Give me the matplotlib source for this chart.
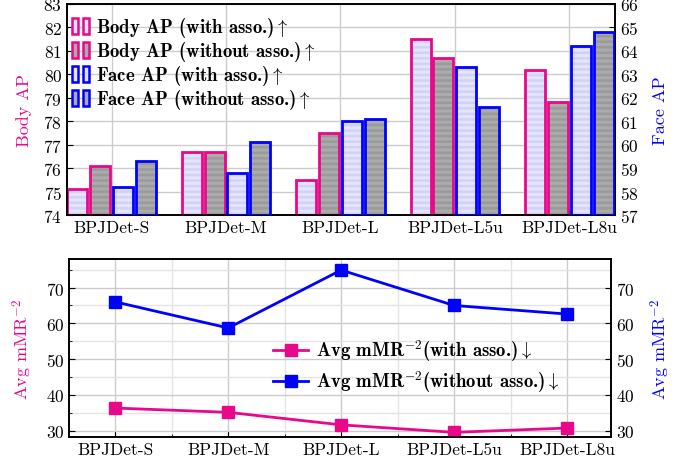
import matplotlib
matplotlib.use("Agg")
import matplotlib.pyplot as plt
import numpy as np
from matplotlib.patches import Rectangle
from matplotlib.legend_handler import HandlerBase

plt.rcParams['font.family'] = ['cmr10', 'DejaVu Serif']
plt.rcParams['mathtext.fontset'] = 'cm'
plt.rcParams['axes.formatter.use_mathtext'] = True
plt.rcParams['hatch.linewidth'] = 1.8

categories = ["BPJDet-S", "BPJDet-M", "BPJDet-L", "BPJDet-L5u", "BPJDet-L8u"]
body_with = [75.1, 76.7, 75.5, 81.5, 80.2]
body_without = [76.1, 76.7, 77.5, 80.7, 78.8]
face_with = [58.2, 58.8, 61.0, 63.3, 64.2]
face_without = [59.3, 60.1, 61.1, 61.6, 64.8]
mmr_with = [36.3, 35.1, 31.6, 29.5, 30.7]
mmr_without = [66.0, 58.7, 74.9, 65.0, 62.6]

MAG = '#E8088A'
BLUE = '#0000FF'
LIGHT = '#E4E4FF'
LIGHT_H = '#D2D2F4'
GRAY = '#ABABAB'
GRAY_H = '#9A9A9A'
TS = 12.5
LS = 13

fig = plt.figure(figsize=(6.93, 4.64), dpi=100)
W, H = 693, 464
ax1 = fig.add_axes([67 / W, 1 - 216 / H, (615 - 67) / W, (216 - 5) / H])
ax1r = ax1.twinx()
ax2 = fig.add_axes([69 / W, 1 - 438 / H, (611 - 69) / W, (438 - 260) / H])
ax2r = ax2.twinx()

x = np.arange(len(categories))
bw = 0.175
step = 0.2

def draw_bars(ax, offs, vals, fill, hcol, edge, bottom):
    ax.bar(x + offs, np.array(vals) - bottom, bw, bottom=bottom, color=fill,
           edgecolor=hcol, hatch='---', linewidth=0, zorder=2)
    ax.bar(x + offs, np.array(vals) - bottom, bw, bottom=bottom, fill=False,
           edgecolor=edge, linewidth=2.0, zorder=3)

draw_bars(ax1, -1.5 * step, body_with, LIGHT, LIGHT_H, MAG, 74)
draw_bars(ax1, -0.5 * step, body_without, GRAY, GRAY_H, MAG, 74)
draw_bars(ax1r, 0.5 * step, face_with, LIGHT, LIGHT_H, BLUE, 57)
draw_bars(ax1r, 1.5 * step, face_without, GRAY, GRAY_H, BLUE, 57)

ax1.set_ylim(74, 83)
ax1r.set_ylim(57, 66)
ax1.set_xlim(-0.39, 4.4)
ax1.set_yticks(np.arange(74, 84))
ax1r.set_yticks(np.arange(57, 67))
ax1.set_xticks(x)
ax1.set_xticklabels(categories)
ax1.grid(True, color='#CCCCCC', linewidth=1.0, zorder=0)
ax1.set_axisbelow(True)
ax1.set_ylabel('Body AP', color=MAG, fontsize=LS, labelpad=8)
ax1r.set_ylabel('Face AP', color=BLUE, fontsize=LS, labelpad=10)
for a in (ax1, ax1r, ax2, ax2r):
    a.tick_params(direction='in', labelsize=TS, length=4)
    for s in a.spines.values():
        s.set_linewidth(1.2)


class TwoBarHandler(HandlerBase):
    def __init__(self, fill, hcol, edge):
        super().__init__()
        self.fill, self.hcol, self.edge = fill, hcol, edge

    def create_artists(self, legend, orig_handle, xdescent, ydescent, width, height, fontsize, trans):
        arts = []
        bwid = width * 0.28
        for xs in [0.05 * width, 0.58 * width]:
            r = Rectangle((xs - xdescent, -ydescent - 1), bwid, height * 1.2,
                          facecolor=self.fill, edgecolor=self.edge, linewidth=1.8, transform=trans)
            arts.append(r)
        return arts


h = [Rectangle((0, 0), 1, 1) for _ in range(4)]
labels = [r'Body AP (with asso.)$\uparrow$', r'Body AP (without asso.)$\uparrow$',
          r'Face AP (with asso.)$\uparrow$', r'Face AP (without asso.)$\uparrow$']
hmap = {h[0]: TwoBarHandler(LIGHT, LIGHT_H, MAG), h[1]: TwoBarHandler(GRAY, GRAY_H, MAG),
        h[2]: TwoBarHandler(LIGHT, LIGHT_H, BLUE), h[3]: TwoBarHandler(GRAY, GRAY_H, BLUE)}
leg = ax1r.legend(h, labels, handler_map=hmap, loc='upper left', frameon=False,
                  prop={'family': ['cmb10', 'DejaVu Serif'], 'size': 13.5},
                  handlelength=1.1, handletextpad=0.25, labelspacing=0.0,
                  borderaxespad=0.1, bbox_to_anchor=(-0.01, 0.99))

# bottom chart
ax2.plot(x, mmr_with, color=MAG, marker='s', markersize=8, linewidth=2, zorder=3,
         label=r'Avg mMR$^{-2}$(with asso.)$\downarrow$')
ax2.plot(x, mmr_without, color=BLUE, marker='s', markersize=8, linewidth=2, zorder=3,
         label=r'Avg mMR$^{-2}$(without asso.)$\downarrow$')
ax2.set_xlim(-0.41, 4.39)
ax2.set_ylim(28.2, 78)
ax2r.set_ylim(28.2, 78)
ax2.set_yticks([30, 40, 50, 60, 70])
ax2r.set_yticks([30, 40, 50, 60, 70])
ax2.set_yticks(np.arange(35, 80, 10), minor=True)
ax2.set_xticks(x)
ax2.set_xticks(x[:-1] + 0.5, minor=True)
ax2.set_xticklabels(categories)
ax2.tick_params(which='minor', direction='in', length=2)
ax2.grid(True, which='major', color='#CCCCCC', linewidth=1.0)
ax2.grid(True, which='minor', color='#E4E4E4', linewidth=1.0)
ax2.set_axisbelow(True)
ax2.set_ylabel(r'Avg mMR$^{-2}$', color=MAG, fontsize=LS, labelpad=8)
ax2r.set_ylabel(r'Avg mMR$^{-2}$', color=BLUE, fontsize=LS, labelpad=10)
ax2.legend(loc='center left', bbox_to_anchor=(0.345, 0.4), frameon=False,
           prop={'family': ['cmb10', 'DejaVu Serif'], 'size': 13.5},
           handlelength=1.9, labelspacing=0.25, handletextpad=0.4)

fig.savefig('out.png', dpi=100)
